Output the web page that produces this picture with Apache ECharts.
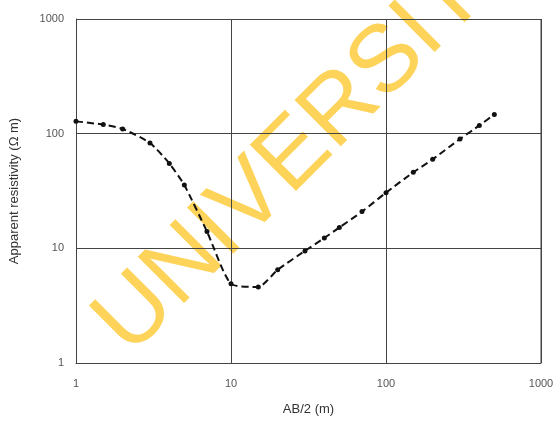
<!DOCTYPE html>
<html>
<head>
<meta charset="utf-8">
<script src="https://cdn.jsdelivr.net/npm/echarts@6/dist/echarts.min.js"></script>
<style>
  html, body { margin: 0; padding: 0; background: #fff; }
  #main { width: 557px; height: 422px; }
</style>
</head>
<body>
<div id="main"></div>
<script>
// electrode spacing AB/2 (m)
var spacing = [1, 1.5, 2, 3, 4, 5, 7, 10, 15, 20, 30, 40, 50, 70, 100, 150, 200, 300, 400, 500];
// apparent resistivity (ohm m)
var resistivity = [128, 120, 110, 83, 55, 35.6, 14, 4.9, 4.6, 6.5, 9.5, 12.3, 15.2, 20.9, 30.6, 46, 59.7, 89.8, 118, 147];

var chart = echarts.init(document.getElementById('main'));

var pts = spacing.map(function (x, i) { return [x, resistivity[i]]; });

var labelStyle = {
    color: '#555', fontSize: 11, fontFamily: 'Liberation Sans',
    formatter: function (v) { return String(v); }
};
var gridLine = {show: true, lineStyle: {color: '#444', width: 1}};

var option = {
    backgroundColor: '#fff',
    animation: false,
    grid: {left: 75, right: 16, top: 19, bottom: 59},
    xAxis: {
        type: 'log', min: 1, max: 1000, logBase: 10,
        name: 'AB/2 (m)', nameLocation: 'middle', nameGap: 40,
        nameTextStyle: {color: '#333', fontSize: 13, fontFamily: 'Liberation Sans'},
        axisLine: {lineStyle: {color: '#444'}},
        axisTick: {show: false},
        minorTick: {show: false},
        axisLabel: Object.assign({margin: 15}, labelStyle),
        splitLine: gridLine
    },
    yAxis: {
        type: 'log', min: 1, max: 1000, logBase: 10,
        name: 'Apparent resistivity (\u03A9 m)', nameLocation: 'middle', nameGap: 55,
        nameTextStyle: {color: '#333', fontSize: 13, fontFamily: 'Liberation Sans'},
        axisLine: {lineStyle: {color: '#444'}},
        axisTick: {show: false},
        axisLabel: Object.assign({margin: 12}, labelStyle),
        splitLine: gridLine
    },
    graphic: [
        // right border of the plot box
        {type: 'line', shape: {x1: 541, y1: 19, x2: 541, y2: 363}, style: {stroke: '#444', lineWidth: 1}},
        // watermark
        {
            type: 'text', x: 145, y: 372, rotation: Math.PI / 4, z: -10,
            style: {
                text: 'UNIVERSITY', fontSize: 95, fontFamily: 'Liberation Sans',
                fill: '#FDD35A', align: 'left', verticalAlign: 'bottom'
            }
        }
    ],
    series: [{
        type: 'line',
        data: pts,
        smooth: 0.2,
        symbol: 'circle',
        symbolSize: 5,
        itemStyle: {color: '#111'},
        lineStyle: {color: '#111', width: 2, type: [7, 4]},
        z: 5
    }]
};

chart.setOption(option);
</script>
</body>
</html>
